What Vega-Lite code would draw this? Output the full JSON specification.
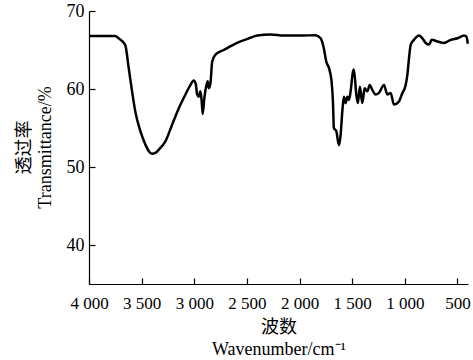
{
  "$schema": "https://vega.github.io/schema/vega-lite/v6.json",
  "width": 379,
  "height": 273,
  "autosize": {"type": "none"},
  "padding": {"left": 89, "top": 11, "right": 5, "bottom": 76},
  "config": {
    "view": {"stroke": null},
    "font": "Liberation Serif",
    "axis": {
      "domainColor": "#000",
      "domainWidth": 1.2,
      "tickColor": "#000",
      "tickWidth": 1.2,
      "labelColor": "#000",
      "titleColor": "#000",
      "grid": false,
      "labelFont": "Liberation Serif",
      "titleFont": "Liberation Serif, Noto Sans CJK SC",
      "titleFontWeight": "normal"
    }
  },
  "data": {
    "values": [
      {"wn": 4000, "t": 66.8},
      {"wn": 3850, "t": 66.8},
      {"wn": 3750, "t": 66.8},
      {"wn": 3719, "t": 66.5},
      {"wn": 3690, "t": 66.2},
      {"wn": 3655, "t": 65.6},
      {"wn": 3623, "t": 62.7},
      {"wn": 3591, "t": 59.7},
      {"wn": 3560, "t": 57.1},
      {"wn": 3512, "t": 54.6},
      {"wn": 3465, "t": 52.9},
      {"wn": 3430, "t": 52.0},
      {"wn": 3401, "t": 51.7},
      {"wn": 3370, "t": 51.8},
      {"wn": 3338, "t": 52.2},
      {"wn": 3274, "t": 53.3},
      {"wn": 3211, "t": 55.4},
      {"wn": 3148, "t": 57.5},
      {"wn": 3084, "t": 59.3},
      {"wn": 3037, "t": 60.5},
      {"wn": 3005, "t": 61.1},
      {"wn": 2985, "t": 60.6},
      {"wn": 2973, "t": 59.3},
      {"wn": 2958, "t": 59.0},
      {"wn": 2942, "t": 59.7},
      {"wn": 2930, "t": 58.5},
      {"wn": 2920, "t": 56.8},
      {"wn": 2903, "t": 59.0},
      {"wn": 2884, "t": 60.5},
      {"wn": 2872, "t": 61.0},
      {"wn": 2862, "t": 60.1},
      {"wn": 2846, "t": 60.8},
      {"wn": 2830, "t": 63.5},
      {"wn": 2799, "t": 64.4},
      {"wn": 2720, "t": 65.0},
      {"wn": 2640, "t": 65.6},
      {"wn": 2561, "t": 66.1},
      {"wn": 2480, "t": 66.5},
      {"wn": 2402, "t": 66.85},
      {"wn": 2276, "t": 67.0},
      {"wn": 2149, "t": 66.85},
      {"wn": 1991, "t": 66.85},
      {"wn": 1848, "t": 66.9},
      {"wn": 1800, "t": 66.5},
      {"wn": 1769, "t": 65.2},
      {"wn": 1746, "t": 63.5},
      {"wn": 1721, "t": 62.7},
      {"wn": 1696, "t": 61.0},
      {"wn": 1683, "t": 58.4},
      {"wn": 1674, "t": 55.0},
      {"wn": 1651, "t": 54.6},
      {"wn": 1626, "t": 52.8},
      {"wn": 1610, "t": 54.1},
      {"wn": 1594, "t": 57.1},
      {"wn": 1579, "t": 59.0},
      {"wn": 1563, "t": 58.2},
      {"wn": 1546, "t": 59.0},
      {"wn": 1531, "t": 58.6},
      {"wn": 1515, "t": 59.7},
      {"wn": 1493, "t": 62.2},
      {"wn": 1484, "t": 62.5},
      {"wn": 1461, "t": 59.3},
      {"wn": 1446, "t": 58.2},
      {"wn": 1427, "t": 60.3},
      {"wn": 1404, "t": 58.2},
      {"wn": 1382, "t": 60.1},
      {"wn": 1356, "t": 59.7},
      {"wn": 1334, "t": 60.5},
      {"wn": 1309, "t": 59.9},
      {"wn": 1280, "t": 59.3},
      {"wn": 1246, "t": 59.5},
      {"wn": 1198, "t": 60.5},
      {"wn": 1166, "t": 59.3},
      {"wn": 1135, "t": 59.5},
      {"wn": 1103, "t": 58.0},
      {"wn": 1056, "t": 58.4},
      {"wn": 1023, "t": 59.5},
      {"wn": 992, "t": 60.5},
      {"wn": 976, "t": 61.8},
      {"wn": 960, "t": 64.0},
      {"wn": 944, "t": 65.7},
      {"wn": 913, "t": 66.3},
      {"wn": 865, "t": 66.85},
      {"wn": 833, "t": 66.5},
      {"wn": 802, "t": 65.9},
      {"wn": 770, "t": 65.7},
      {"wn": 745, "t": 66.3},
      {"wn": 690, "t": 66.1},
      {"wn": 628, "t": 65.9},
      {"wn": 564, "t": 66.3},
      {"wn": 500, "t": 66.5},
      {"wn": 437, "t": 66.85},
      {"wn": 415, "t": 66.7},
      {"wn": 402, "t": 65.8}
    ]
  },
  "mark": {"type": "line", "color": "#000", "strokeWidth": 2.5, "interpolate": "monotone"},
  "encoding": {
    "x": {
      "field": "wn",
      "type": "quantitative",
      "scale": {"domain": [4000, 400], "nice": false, "zero": false},
      "axis": {
        "values": [4000, 3500, 3000, 2500, 2000, 1500, 1000, 500],
        "tickSize": -6,
        "labelPadding": 17,
        "labelFontSize": 17,
        "labelExpr": "replace(format(datum.value, ','), ',', ' ')",
        "labelFlush": false,
        "title": ["波数", "Wavenumber/cm⁻¹"],
        "titleFontSize": 18,
        "titleLineHeight": 22,
        "titleBaseline": "middle",
        "titleY": 43
      }
    },
    "y": {
      "field": "t",
      "type": "quantitative",
      "scale": {"domain": [35, 70], "nice": false, "zero": false},
      "axis": {
        "values": [40, 50, 60, 70],
        "tickSize": -6,
        "labelPadding": 11,
        "labelFontSize": 18,
        "title": ["透过率", "Transmittance/%"],
        "titleFontSize": 18,
        "titleLineHeight": 21,
        "titleBaseline": "middle",
        "titleAngle": -90,
        "titleX": -65,
        "titleY": 136
      }
    }
  }
}
